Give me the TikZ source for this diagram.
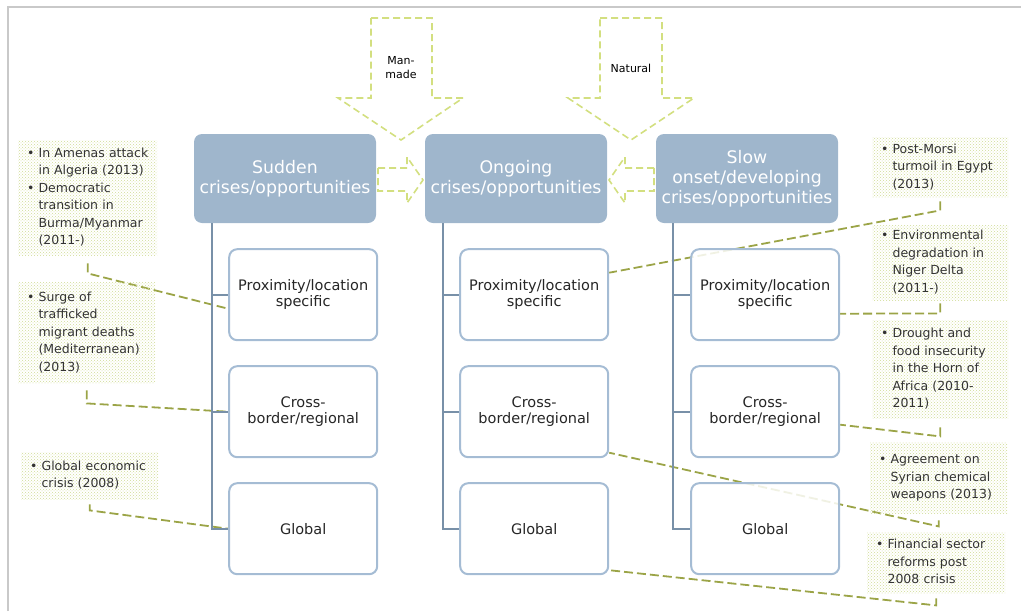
\documentclass[tikz,border=0pt]{standalone}
\usepackage{fontspec}
\setmainfont{DejaVu Sans}
\usepackage{tikz}
\usetikzlibrary{positioning,patterns,backgrounds}
\definecolor{headblue}{HTML}{9FB6CC}
\definecolor{boxline}{HTML}{A5BCD4}
\definecolor{trunk}{HTML}{7890A8}
\definecolor{lime}{HTML}{D3DF80}
\definecolor{linkolive}{HTML}{9BA447}
\definecolor{notedot}{HTML}{D0DC95}
\definecolor{framegray}{HTML}{C9C9C9}

\begin{document}
\begin{tikzpicture}[x=1pt,y=-1pt,node distance=24pt,
  headbox/.style={fill=headblue,rounded corners=8pt,minimum width=182pt,minimum height=89pt,align=center,text=white,font=\fontsize{17.3}{20}\selectfont},
  subbox/.style={draw=boxline,line width=2pt,fill=white,fill opacity=0.85,text opacity=1,rounded corners=8pt,minimum width=148pt,minimum height=91pt,align=center,text=black!85,font=\fontsize{14.5}{16.5}\selectfont},
  notebox/.style={pattern=crosshatch dots,pattern color=notedot,inner xsep=9pt,inner ysep=0pt,anchor=north west,align=left,text=black!80,font=\fontsize{12.5}{17.5}\selectfont},
  bigarrow/.style={draw=lime,dash pattern=on 7pt off 4pt,line width=1.6pt},
  link/.style={draw=linkolive,dash pattern=on 9pt off 4pt,line width=1.8pt},
  stem/.style={draw=trunk,line width=2pt}]
\useasboundingbox (0,0) rectangle (1021,611);
\draw[framegray,line width=1.5pt] (8,611) -- (8,7) -- (1021,7);
% the three kinds of crises
\node[headbox] (sud) at (285,178.5) {Sudden\\crises/opportunities};
\node[headbox] (ong) at (516,178.5) {Ongoing\\crises/opportunities};
\node[headbox] (slo) at (747,178.5) {Slow\\onset/developing\\crises/opportunities};
% scope of each
\node[subbox,anchor=north east] (sud1) at ([xshift=2pt,yshift=-25pt]sud.south east) {Proximity/location\\specific};
\node[subbox,below=of sud1] (sud2) {Cross-\\border/regional};
\node[subbox,below=of sud2] (sud3) {Global};
\node[subbox,anchor=north east] (ong1) at ([xshift=2pt,yshift=-25pt]ong.south east) {Proximity/location\\specific};
\node[subbox,below=of ong1] (ong2) {Cross-\\border/regional};
\node[subbox,below=of ong2] (ong3) {Global};
\node[subbox,anchor=north east] (slo1) at ([xshift=2pt,yshift=-25pt]slo.south east) {Proximity/location\\specific};
\node[subbox,below=of slo1] (slo2) {Cross-\\border/regional};
\node[subbox,below=of slo2] (slo3) {Global};
\draw[stem] ([xshift=18pt]sud.south west) |- (sud1.west);
\draw[stem] ([xshift=18pt]sud.south west) |- (sud2.west);
\draw[stem] ([xshift=18pt]sud.south west) |- (sud3.west);
\draw[stem] ([xshift=18pt]ong.south west) |- (ong1.west);
\draw[stem] ([xshift=18pt]ong.south west) |- (ong2.west);
\draw[stem] ([xshift=18pt]ong.south west) |- (ong3.west);
\draw[stem] ([xshift=17pt]slo.south west) |- (slo1.west);
\draw[stem] ([xshift=17pt]slo.south west) |- (slo2.west);
\draw[stem] ([xshift=17pt]slo.south west) |- (slo3.west);
% causes and flows
\draw[bigarrow] (371,18) -- (432,18) -- (432,98) -- (463,98) -- (401,140) -- (338,98) -- (371,98) -- cycle;
\draw[bigarrow] (600,18) -- (662,18) -- (662,98) -- (694,98) -- (631,140) -- (568,98) -- (600,98) -- cycle;
\draw[bigarrow] (378,168) -- (407,168) -- (407,157) -- (423,180) -- (407,203) -- (407,191) -- (378,191) -- cycle;
\draw[bigarrow] (654,168) -- (625,168) -- (625,157) -- (609,180) -- (625,203) -- (625,191) -- (654,191) -- cycle;
\node[font=\fontsize{11}{14}\selectfont,align=center] (man) at (401,68) {Man-\\made};
\node[font=\fontsize{11}{14}\selectfont] (nat) at (631,68) {Natural};
% examples
\node[notebox,text width=121pt,minimum height=115pt] (n1) at (18,140) {\begin{tabular}{@{}l@{\hspace{4pt}}l@{}}\textbullet & In Amenas attack\\ & in Algeria (2013)\\ \textbullet & Democratic\\ & transition in\\ & Burma/Myanmar\\ & (2011-)\end{tabular}};
\node[notebox,text width=119pt,minimum height=101pt] (n2) at (18,282) {\begin{tabular}{@{}l@{\hspace{4pt}}l@{}}\textbullet & Surge of\\ & trafficked\\ & migrant deaths\\ & (Mediterranean)\\ & (2013)\end{tabular}};
\node[notebox,text width=119pt,minimum height=47pt] (n3) at (21,452) {\begin{tabular}{@{}l@{\hspace{4pt}}l@{}}\textbullet & Global economic\\ & crisis (2008)\end{tabular}};
\node[notebox,text width=118pt,minimum height=60pt] (n4) at (872,137) {\begin{tabular}{@{}l@{\hspace{4pt}}l@{}}\textbullet & Post-Morsi\\ & turmoil in Egypt\\ & (2013)\end{tabular}};
\node[notebox,text width=118pt,minimum height=75pt] (n5) at (872,225) {\begin{tabular}{@{}l@{\hspace{4pt}}l@{}}\textbullet & Environmental\\ & degradation in\\ & Niger Delta\\ & (2011-)\end{tabular}};
\node[notebox,text width=118pt,minimum height=98pt] (n6) at (872,320) {\begin{tabular}{@{}l@{\hspace{4pt}}l@{}}\textbullet & Drought and\\ & food insecurity\\ & in the Horn of\\ & Africa (2010-\\ & 2011)\end{tabular}};
\node[notebox,text width=119pt,minimum height=71pt] (n7) at (870,442) {\begin{tabular}{@{}l@{\hspace{4pt}}l@{}}\textbullet & Agreement on\\ & Syrian chemical\\ & weapons (2013)\end{tabular}};
\node[notebox,text width=120pt,minimum height=61pt] (n8) at (867,532) {\begin{tabular}{@{}l@{\hspace{4pt}}l@{}}\textbullet & Financial sector\\ & reforms post\\ & 2008 crisis\end{tabular}};
\begin{pgfonlayer}{background}
\draw[link] ([yshift=-8pt]n1.south) -- ++(0,10) -- ([yshift=-14pt]sud1.west);
\draw[link] ([yshift=-7pt]n2.south) -- ++(0,13) -- (sud2.west);
\draw[link] ([yshift=-5pt]n3.south) -- ++(0,6) -- (sud3.west);
\draw[link] ([yshift=-4pt]n4.south) -- ++(0,9) -- ([yshift=22pt]ong1.east);
\draw[link] ([yshift=-3pt]n5.south) -- ++(0,10) -- ([yshift=-19pt]slo1.east);
\draw[link] ([yshift=-9pt]n6.south) -- ++(0,9) -- ([yshift=-13pt]slo2.east);
\draw[link] ([yshift=-7pt]n7.south) -- ++(0,6) -- ([yshift=-41pt]ong2.east);
\draw[link] ([yshift=-5pt]n8.south) -- ++(0,7) -- ([yshift=-41.5pt]ong3.east);
\end{pgfonlayer}
\end{tikzpicture}
\end{document}
